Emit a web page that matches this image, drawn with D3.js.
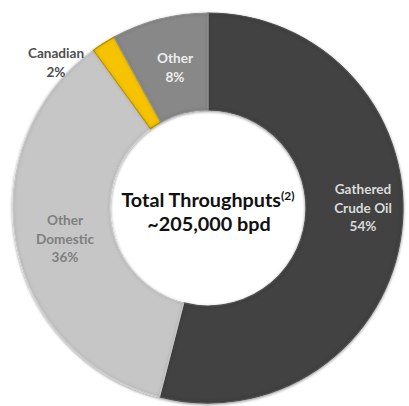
<!DOCTYPE html>
<html>
<head>
<meta charset="utf-8">
<script src="https://cdn.jsdelivr.net/npm/d3@7/dist/d3.min.js"></script>
<style>
  html, body { margin: 0; padding: 0; background: #fff; }
  svg { display: block; }
</style>
</head>
<body>
<svg id="chart" width="409" height="406"></svg>
<script>
// Throughput mix, in percent, listed clockwise from 12 o'clock
const categories = ["Gathered Crude Oil", "Other Domestic", "Canadian", "Other"];
const shares = [54, 36, 2, 8];
const labelLines = [["Gathered", "Crude Oil", "54%"], ["Other", "Domestic", "36%"], ["Canadian", "2%"], ["Other", "8%"]];
const titleLines = ["Total Throughputs", "~205,000 bpd"];

const fills = ["#434343", "#c6c6c6", "#f5c300", "#888888"];
const edgeStrokes = ["#5a5a5a", "#dcdcdc", "#c9a000", "#a0a0a0"];
const textColors = ["#dadada", "#7f7f7f", "#4f4f4f", "#ececec"];

const svg = d3.select("#chart");
const cx = 208, cy = 208, rOuter = 195, rInner = 98;

const defs = svg.append("defs");

// soft halo around the whole ring
const halo = defs.append("filter").attr("id", "halo")
  .attr("x", "-10%").attr("y", "-10%").attr("width", "120%").attr("height", "120%");
halo.append("feGaussianBlur").attr("in", "SourceAlpha").attr("stdDeviation", 1.6).attr("result", "b");
halo.append("feOffset").attr("in", "b").attr("dy", 1).attr("result", "o");
halo.append("feComponentTransfer").attr("in", "o").attr("result", "s")
  .append("feFuncA").attr("type", "linear").attr("slope", 0.45);
const hm = halo.append("feMerge");
hm.append("feMergeNode").attr("in", "s");
hm.append("feMergeNode").attr("in", "SourceGraphic");

// inset darkening near each slice edge for a bevelled look
const bevel = defs.append("filter").attr("id", "bevel")
  .attr("x", "-5%").attr("y", "-5%").attr("width", "110%").attr("height", "110%");
bevel.append("feGaussianBlur").attr("in", "SourceAlpha").attr("stdDeviation", 2.2).attr("result", "blur");
bevel.append("feComposite").attr("in", "SourceAlpha").attr("in2", "blur")
  .attr("operator", "arithmetic").attr("k2", 1).attr("k3", -1).attr("result", "edge");
bevel.append("feFlood").attr("flood-color", "#000").attr("flood-opacity", 0.5).attr("result", "fl");
bevel.append("feComposite").attr("in", "fl").attr("in2", "edge").attr("operator", "in").attr("result", "shade");
const bm = bevel.append("feMerge");
bm.append("feMergeNode").attr("in", "SourceGraphic");
bm.append("feMergeNode").attr("in", "shade");

const data = categories.map((c, i) => ({ name: c, value: shares[i], i }));
const pie = d3.pie().value(d => d.value).sort(null).startAngle(0).endAngle(2 * Math.PI);
const arcs = pie(data);
const arc = d3.arc().innerRadius(rInner).outerRadius(rOuter);

const ring = svg.append("g").attr("transform", `translate(${cx},${cy})`).attr("filter", "url(#halo)");
ring.selectAll("path.slice")
  .data(arcs)
  .join("path")
  .attr("class", "slice")
  .attr("d", arc)
  .attr("fill", d => fills[d.data.i])
  .attr("stroke", d => edgeStrokes[d.data.i])
  .attr("stroke-width", 1.2)
  .attr("filter", "url(#bevel)");

// slice labels
const labelPos = [[363, 194], [65, 225], [56, 58], [175, 63]];
const lineGap = [18.5, 18.5, 19, 18.5];
const labels = svg.append("g")
  .attr("font-family", "Lato, 'Open Sans', sans-serif")
  .attr("font-weight", "bold")
  .attr("font-size", 13.6)
  .attr("text-anchor", "middle");
arcs.forEach(a => {
  const i = a.data.i;
  const t = labels.append("text").attr("fill", textColors[i]);
  labelLines[i].forEach((ln, k) => {
    t.append("tspan").attr("x", labelPos[i][0]).attr("y", labelPos[i][1] + k * lineGap[i]).text(ln);
  });
});

// centre title
const title = svg.append("g")
  .attr("font-family", "Lato, 'Open Sans', sans-serif")
  .attr("font-weight", "bold")
  .attr("fill", "#111")
  .attr("text-anchor", "middle");
const t1 = title.append("text").attr("x", 208).attr("y", 207).attr("font-size", 19.8);
t1.append("tspan").text(titleLines[0]);
t1.append("tspan").attr("font-size", 12).attr("dy", -7).text("(2)");
title.append("text").attr("x", 209).attr("y", 231).attr("font-size", 19.8).text(titleLines[1]);
</script>
</body>
</html>
